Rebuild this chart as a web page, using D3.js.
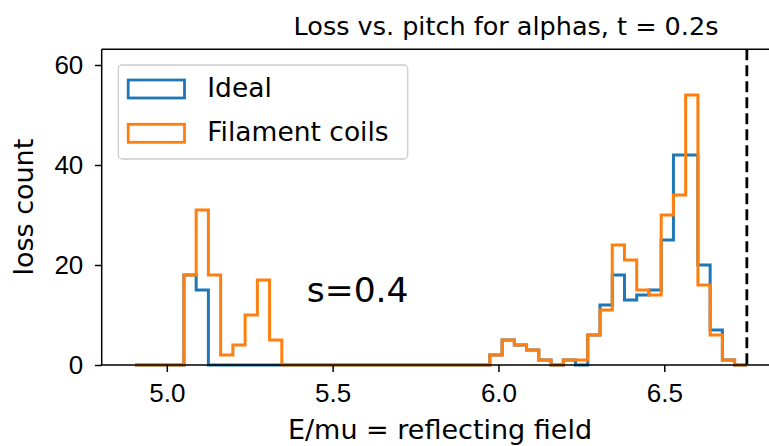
<!DOCTYPE html>
<html>
<head>
<meta charset="utf-8">
<script src="https://cdn.jsdelivr.net/npm/d3@7"></script>
<style>
    body { margin: 0; background: #fff; overflow: hidden; }
    svg { display: block; font-family: "DejaVu Sans", sans-serif; }
    .tick text { font-size: 26px; fill: #000; }
    .tick line { stroke: #000; stroke-width: 1.5px; }
    .hist { fill: none; stroke-width: 3px; stroke-linejoin: miter; }
</style>
</head>
<body>
<svg width="769" height="446"></svg>
<script>
    // histogram counts per bin (50 bins)
    const idealCounts = [
        0, 0, 0, 0, 18, 15, 0, 0, 0, 0,
        0, 0, 0, 0, 0, 0, 0, 0, 0, 0,
        0, 0, 0, 0, 0, 0, 0, 0, 0, 2,
        5, 4, 3, 1, 0, 1, 0, 6, 12, 18,
        13, 14, 15, 25, 42, 42, 20, 7, 1, 0
    ];
    const filamentCounts = [
        0, 0, 0, 0, 18, 31, 18, 2, 4, 10,
        17, 5, 0, 0, 0, 0, 0, 0, 0, 0,
        0, 0, 0, 0, 0, 0, 0, 0, 0, 2,
        5, 4, 3, 1, 0, 1, 1, 6, 11, 24,
        21, 15, 14, 30, 34, 54, 16, 6, 1, 0
    ];
    const binStart = 4.904, binEnd = 6.749;
    const reflectLimit = 6.749;   // dashed line
    const xTicks = [5.0, 5.5, 6.0, 6.5];
    const yTicks = [0, 20, 40, 60];
    const seriesNames = ["Ideal", "Filament coils"];
    const seriesColors = ["#1f77b4", "#ff7f0e"];

    const nBins = idealCounts.length;
    const edges = d3.range(nBins + 1).map(i => binStart + i * (binEnd - binStart) / nBins);

    const margin = {top: 49.3, left: 101.7};
    const width = 808, height = 365 - 49.3;

    const x = d3.scaleLinear().domain([4.8037, 7.240]).range([0, width]);
    const y = d3.scaleLinear().domain([0, 63.14]).range([height, 0]);

    const svg = d3.select("svg");
    const g = svg.append("g").attr("transform", `translate(${margin.left},${margin.top})`);

    // step path like matplotlib histtype='step'
    function stepPoints(counts) {
        const pts = [[edges[0], 0]];
        counts.forEach((c, i) => {
            pts.push([edges[i], c]);
            pts.push([edges[i + 1], c]);
        });
        pts.push([edges[nBins], 0]);
        return pts;
    }
    const line = d3.line().x(d => x(d[0])).y(d => y(d[1]));

    [idealCounts, filamentCounts].forEach((counts, i) => {
        g.append("path")
            .attr("class", "hist")
            .attr("d", line(stepPoints(counts)))
            .style("stroke", seriesColors[i]);
    });

    // vertical dashed line
    g.append("line")
        .attr("x1", x(reflectLimit)).attr("x2", x(reflectLimit))
        .attr("y1", 0).attr("y2", height)
        .attr("stroke", "#000")
        .attr("stroke-width", 2.8)
        .attr("stroke-dasharray", "11,5");

    // axes
    g.append("g")
        .attr("transform", `translate(0,${height})`)
        .call(d3.axisBottom(x).tickValues(xTicks).tickFormat(d3.format(".1f")).tickSize(7).tickPadding(12))
        .call(a => a.select(".domain").remove());

    g.append("g")
        .call(d3.axisLeft(y).tickValues(yTicks).tickSize(6.7).tickPadding(11.7))
        .call(a => a.select(".domain").remove());

    // spines
    g.append("path")
        .attr("d", `M0,0V${height}H${width}M0,0H${width}`)
        .attr("fill", "none")
        .attr("stroke", "#000")
        .attr("stroke-width", 1.5);

    // labels
    svg.append("text")
        .attr("x", 506).attr("y", 35)
        .attr("text-anchor", "middle")
        .style("font-size", "25.5px")
        .text("Loss vs. pitch for alphas, t = 0.2s");

    svg.append("text")
        .attr("x", 440).attr("y", 439)
        .attr("text-anchor", "middle")
        .style("font-size", "27px")
        .text("E/mu = reflecting field");

    svg.append("text")
        .attr("transform", `translate(33,${margin.top + height / 2}) rotate(-90)`)
        .attr("text-anchor", "middle")
        .style("font-size", "27px")
        .text("loss count");

    g.append("text")
        .attr("x", x(5.422)).attr("y", y(12.6))
        .style("font-size", "34.5px")
        .text("s=0.4");

    // legend
    const legend = svg.append("g").attr("transform", "translate(118.3,65)");
    legend.append("rect")
        .attr("width", 289.4).attr("height", 94)
        .attr("rx", 4)
        .attr("fill", "#fff").attr("fill-opacity", 0.8)
        .attr("stroke", "#ccc").attr("stroke-width", 1.3);

    const rows = legend.selectAll(".row")
        .data(seriesNames)
        .enter().append("g")
        .attr("transform", (d, i) => `translate(0,${i * 44.3})`);

    rows.append("rect")
        .attr("x", 9.9).attr("y", 15)
        .attr("width", 56.3).attr("height", 18)
        .attr("fill", "none")
        .attr("stroke-width", 2.8)
        .attr("stroke", (d, i) => seriesColors[i]);

    rows.append("text")
        .attr("x", 89).attr("y", 31.7)
        .style("font-size", "26.5px")
        .text(d => d);
</script>
</body>
</html>
